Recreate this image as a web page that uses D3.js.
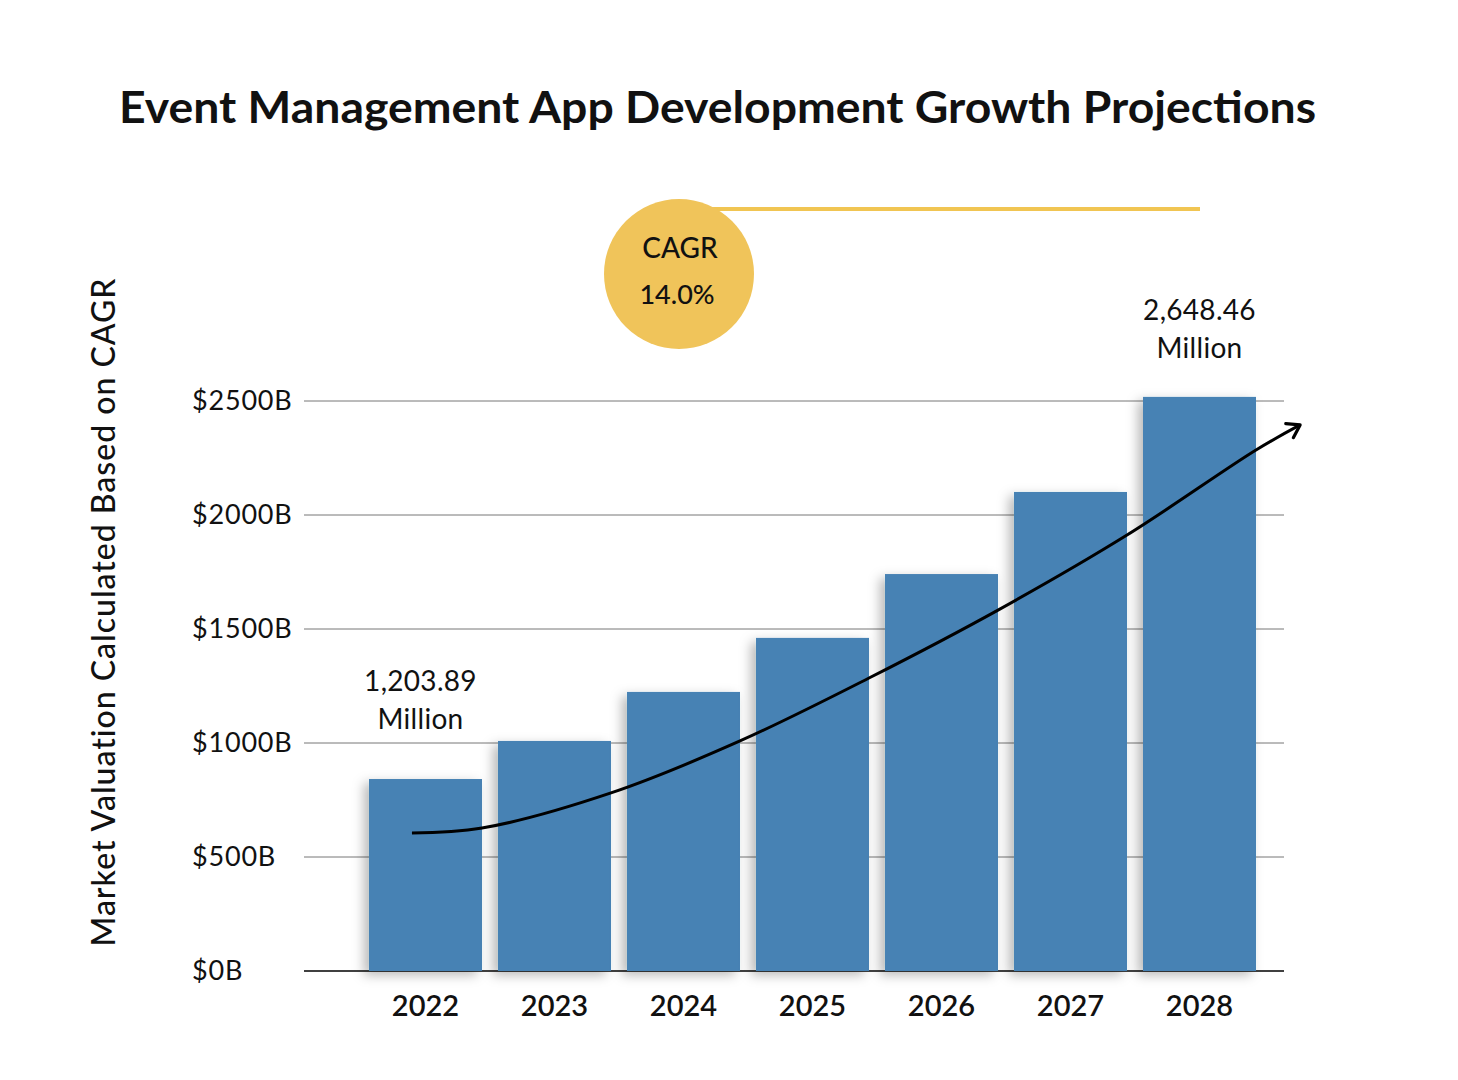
<!DOCTYPE html>
<html>
<head>
<meta charset="utf-8">
<script src="https://cdn.jsdelivr.net/npm/d3@7"></script>
<style>
  html, body { margin: 0; padding: 0; background: #fff; }
  svg { display: block; font-family: Lato, "Open Sans", sans-serif; }
</style>
</head>
<body>
<svg id="chart" width="1458" height="1080"></svg>
<script>
// ---- data ----
const years = ["2022", "2023", "2024", "2025", "2026", "2027", "2028"];
const values = [842, 1009, 1224, 1461, 1741, 2101, 2518];
const yTicks = [0, 500, 1000, 1500, 2000, 2500];
const yTickLabels = ["$0B", "$500B", "$1000B", "$1500B", "$2000B", "$2500B"];
// trend arrow: positions in band-index units and values
const trendIndex = [-0.105, 0.438, 1.438, 2.438, 3.438, 4.438, 5.438, 6.438, 6.78];
const trendValues = [605, 627, 781, 1009, 1285, 1583, 1912, 2285, 2395];
const startLabel = ["1,203.89", "Million"];
const endLabel = ["2,648.46", "Million"];
const cagrLines = ["CAGR", "14.0%"];
const title = "Event Management App Development Growth Projections";
const yTitle = "Market Valuation Calculated Based on CAGR";

// ---- layout ----
const svg = d3.select("#chart");
const x = d3.scaleBand().domain(years).range([361, 1264]).paddingInner(0.124).paddingOuter(0.062);
const y = d3.scaleLinear().domain([0, 2500]).range([971, 401]);
const xi = d3.scaleLinear().domain([0, 6]).range([x(years[0]) + x.bandwidth() / 2, x(years[6]) + x.bandwidth() / 2]);

const defs = svg.append("defs");
const f = defs.append("filter").attr("id", "shadow").attr("x", "-30%").attr("y", "-10%").attr("width", "160%").attr("height", "130%");
f.append("feDropShadow").attr("dx", -5).attr("dy", 4).attr("stdDeviation", 6)
  .attr("flood-color", "#000").attr("flood-opacity", 0.28);
defs.append("marker").attr("id", "arrow").attr("viewBox", "0 0 20 20").attr("refX", 16).attr("refY", 10)
  .attr("markerWidth", 20).attr("markerHeight", 20).attr("markerUnits", "userSpaceOnUse").attr("orient", "auto")
  .append("path").attr("d", "M4,2 L16,10 L4,18").attr("fill", "none").attr("stroke", "#000").attr("stroke-width", 3.2)
  .attr("stroke-linecap", "round").attr("stroke-linejoin", "round");

// title
svg.append("text").attr("x", 119).attr("y", 123).attr("font-size", 44).attr("font-weight", 700)
  .attr("fill", "#111").attr("textLength", 1197).attr("lengthAdjust", "spacingAndGlyphs").text(title);

// CAGR badge
svg.append("line").attr("x1", 700).attr("x2", 1200).attr("y1", 209).attr("y2", 209)
  .attr("stroke", "#F1C552").attr("stroke-width", 4);
svg.append("circle").attr("cx", 679).attr("cy", 274).attr("r", 75).attr("fill", "#F0C45A");
svg.append("text").attr("x", 680).attr("y", 258).attr("text-anchor", "middle").attr("font-size", 28)
  .attr("font-weight", 500).attr("fill", "#111").text(cagrLines[0]);
svg.append("text").attr("x", 677).attr("y", 304).attr("text-anchor", "middle").attr("font-size", 27)
  .attr("font-weight", 500).attr("fill", "#111").text(cagrLines[1]);

// grid
const g = svg.append("g");
g.selectAll("line.grid").data(yTicks.filter(d => d > 0)).join("line").attr("class", "grid")
  .attr("x1", 304).attr("x2", 1284).attr("y1", d => y(d)).attr("y2", d => y(d))
  .attr("stroke", "#777").attr("stroke-width", 1);
g.append("line").attr("x1", 304).attr("x2", 1284).attr("y1", y(0)).attr("y2", y(0)).attr("stroke", "#000").attr("stroke-width", 1.3);

// y tick labels
g.selectAll("text.ytick").data(yTicks).join("text").attr("class", "ytick")
  .attr("x", 192).attr("y", d => y(d)).attr("dy", "0.33em").attr("font-size", 27).attr("letter-spacing", 0.8)
  .attr("fill", "#111").text((d, i) => yTickLabels[i]);

// bars
g.selectAll("rect.bar").data(values).join("rect").attr("class", "bar")
  .attr("x", (d, i) => x(years[i])).attr("width", x.bandwidth())
  .attr("y", d => y(d)).attr("height", d => y(0) - y(d))
  .attr("fill", "#4782B4").attr("filter", "url(#shadow)");

// x labels
g.selectAll("text.xtick").data(years).join("text").attr("class", "xtick")
  .attr("x", d => x(d) + x.bandwidth() / 2).attr("y", 1016).attr("text-anchor", "middle")
  .attr("font-size", 29).attr("font-weight", 600).attr("fill", "#111").text(d => d);

// trend arrow
const line = d3.line().x(d => xi(d[0])).y(d => y(d[1])).curve(d3.curveCatmullRom.alpha(0.5));
g.append("path").datum(trendIndex.map((t, i) => [t, trendValues[i]])).attr("d", line)
  .attr("fill", "none").attr("stroke", "#000").attr("stroke-width", 3).attr("marker-end", "url(#arrow)");

// value labels
const cx0 = x(years[0]) + x.bandwidth() / 2 - 5;
const cx6 = x(years[6]) + x.bandwidth() / 2;
const lab = (xx, yy, t) => svg.append("text").attr("x", xx).attr("y", yy).attr("text-anchor", "middle")
  .attr("font-size", 28).attr("letter-spacing", 0.3).attr("fill", "#111").text(t);
lab(cx0, 691, startLabel[0]);
lab(cx0, 729, startLabel[1]);
lab(cx6, 320, endLabel[0]);
lab(cx6, 358, endLabel[1]);

// y title
svg.append("text").attr("transform", "translate(115,612) rotate(-90)").attr("text-anchor", "middle")
  .attr("font-size", 32).attr("letter-spacing", 1).attr("font-weight", 500).attr("fill", "#111").text(yTitle);
</script>
</body>
</html>
